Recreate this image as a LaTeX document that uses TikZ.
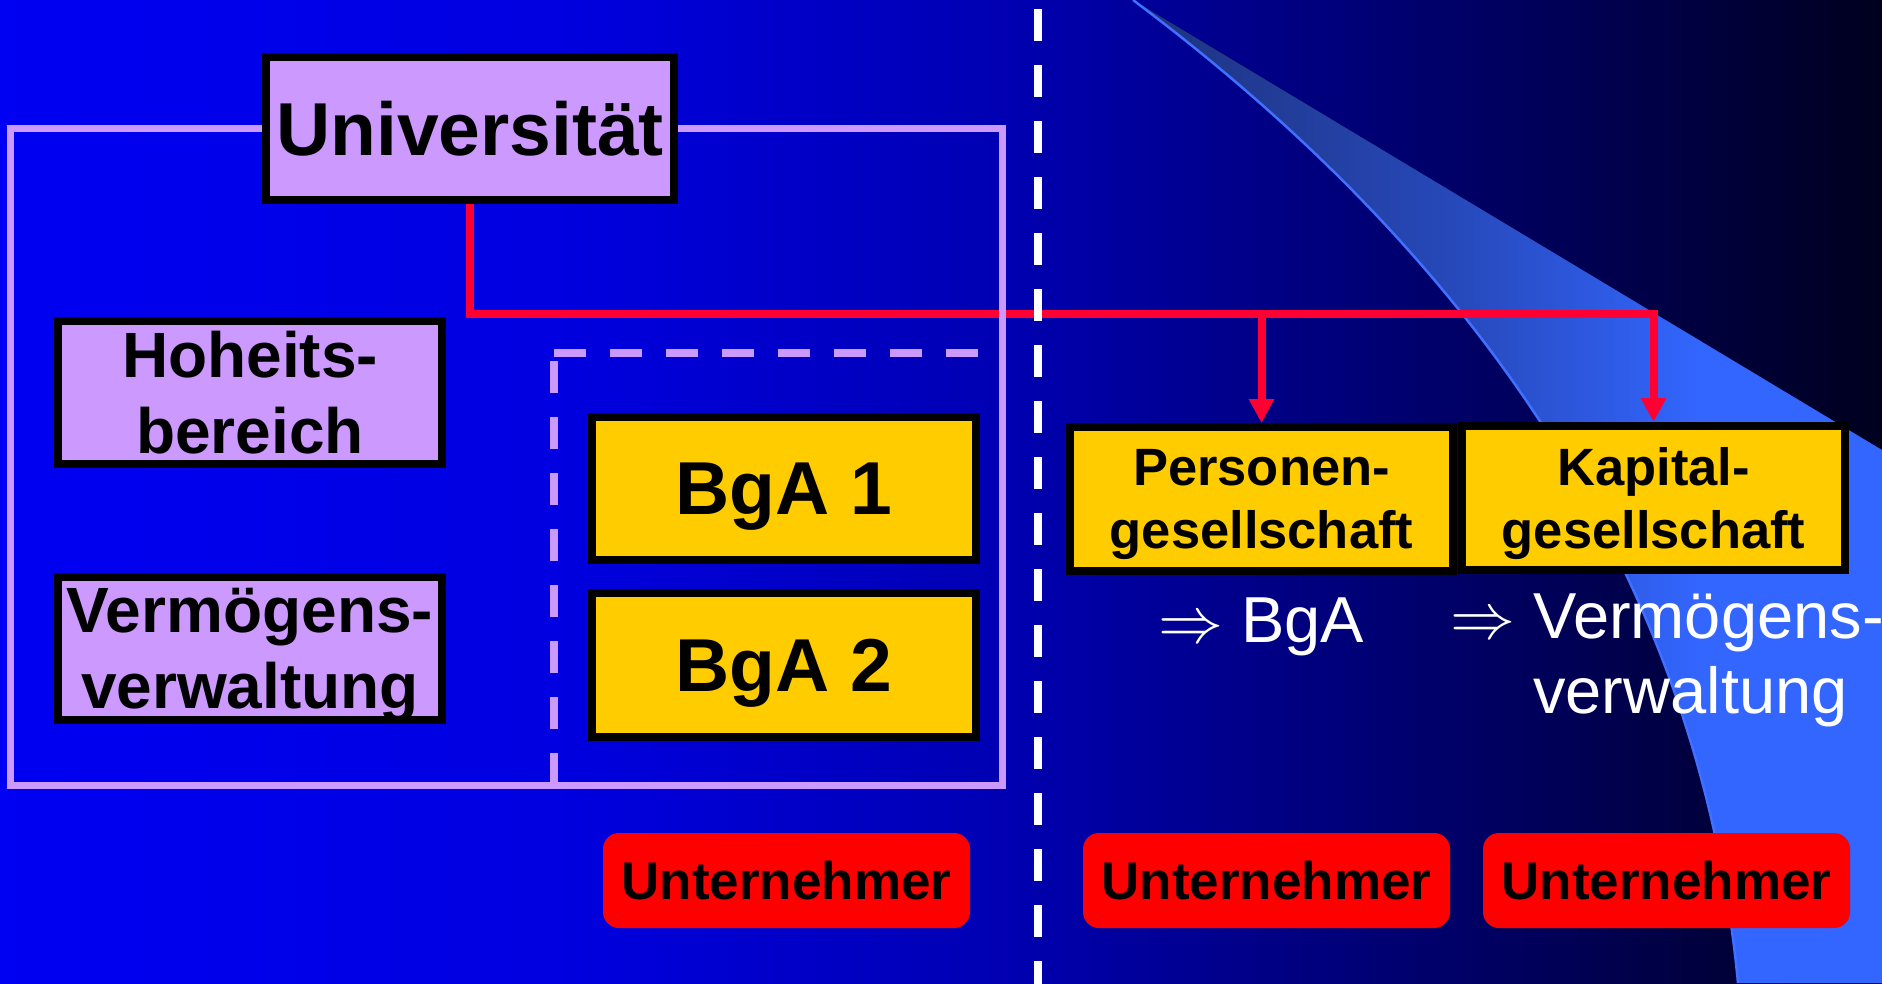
\documentclass[tikz,border=0pt]{standalone}
\usepackage{graphicx}
\usepackage{fontspec}
\setmainfont{Liberation Sans}
\usetikzlibrary{arrows.meta}

% palette
\definecolor{lilac}{HTML}{CC99FF}
\definecolor{gold}{HTML}{FFCC00}
\definecolor{tagred}{HTML}{FF0000}
\definecolor{linkred}{HTML}{FF0033}
\definecolor{swooshedge}{HTML}{4070FF}

% backdrop: bright blue on the left fading to near black on the right
\definecolor{bgA}{RGB}{0,0,242}
\definecolor{bgB}{RGB}{0,0,224}
\definecolor{bgC}{RGB}{0,0,178}
\definecolor{bgD}{RGB}{0,0,128}
\definecolor{bgE}{RGB}{0,0,80}
\definecolor{bgF}{RGB}{0,0,30}
\pgfdeclarehorizontalshading{backdropshade}{100bp}{%
  color(0bp)=(bgA); color(25bp)=(bgA); color(39.9bp)=(bgB); color(51.6bp)=(bgC);
  color(59.5bp)=(bgD); color(67.5bp)=(bgE); color(75bp)=(bgF); color(100bp)=(bgF)}

% light blue swoosh in the lower right corner
\definecolor{swA}{RGB}{30,50,125}
\definecolor{swB}{RGB}{38,72,185}
\definecolor{swC}{RGB}{51,102,255}
\pgfdeclarehorizontalshading{swooshshade}{100bp}{%
  color(0bp)=(swA); color(25bp)=(swA); color(46.2bp)=(swB); color(62.9bp)=(swC); color(100bp)=(swC)}

\pgfdeclarelayer{backdrop}
\pgfdeclarelayer{links}
\pgfdeclarelayer{frame}
\pgfsetlayers{backdrop,links,frame,main}

% implication arrow, built at 10pt and enlarged to the 65pt text size
\newcommand{\implarrow}{\scalebox{6.5}{\fontsize{10pt}{12pt}\selectfont$\Rightarrow$}}

\tikzset{
  framebox/.style={draw=black, line width=8pt, text=black, align=center, inner sep=0pt,
    minimum width=384pt, minimum height=143pt},
  lilacbox/.style={framebox, fill=lilac, font=\fontsize{64pt}{76pt}\selectfont\bfseries},
  goldbox/.style={framebox, fill=gold, font=\fontsize{75pt}{86pt}\selectfont\bfseries},
  formbox/.style={framebox, fill=gold, minimum width=383pt, minimum height=144pt,
    font=\fontsize{52.5pt}{62.5pt}\selectfont\bfseries},
  redtag/.style={fill=tagred, rounded corners=16pt, text=black, inner sep=0pt,
    minimum width=367pt, minimum height=95pt, font=\fontsize{53pt}{61pt}\selectfont\bfseries},
  whitetext/.style={text=white, inner sep=0pt, font=\fontsize{65pt}{75pt}\selectfont},
  linkline/.style={draw=linkred, line width=8pt, -{Triangle[width=24pt,length=24pt]}},
  dashline/.style={line width=8pt, dash pattern=on 32pt off 24pt}
}

\begin{document}
\begin{tikzpicture}[x=1pt, y=-1pt]
\useasboundingbox (0,0) rectangle (1882,983);

\begin{pgfonlayer}{backdrop}
  \fill[shading=backdropshade] (0,0) rectangle (1882,983);
  \fill[shading=swooshshade] (1133,0) -- (1882,450) -- (1882,983) -- (1738,983)
    .. controls (1700,583) and (1480,260) .. (1133,0) -- cycle;
  \draw[swooshedge, line width=2.5pt] (1133,0) .. controls (1480,260) and (1700,583) .. (1738,983);
\end{pgfonlayer}

% boxes
\node[lilacbox, minimum width=408pt, font=\fontsize{75pt}{86pt}\selectfont\bfseries] (univ) at (470,128.5) {Universität};
\node[lilacbox] (hoheit) at (250,392.5) {Hoheits-\\bereich};
\node[lilacbox, text depth=0pt] (verm) at (250,648.5) {Vermögens-\\verwaltung};
\node[goldbox, text depth=0pt] (bga1) at (784,488.5) {BgA 1};
\node[goldbox, text depth=0pt, minimum height=144pt] (bga2) at (784,665) {BgA 2};
\node[formbox, text depth=0pt] (pers) at (1261.5,499) {Personen-\\gesellschaft};
\node[formbox, text depth=0pt] (kap) at (1653.5,498) {Kapital-\\gesellschaft};

% consequences
\node[whitetext, anchor=base west] (bgatext) at (1158,642) {\implarrow{} BgA};
\node[whitetext, anchor=base west, align=left] (vwtext) at (1450,713)
  {\implarrow{} Vermögens-\\\hphantom{\implarrow{} }verwaltung};

% entrepreneur tags
\node[redtag] (tag1) at (786.5,880.5) {Unternehmer};
\node[redtag] (tag2) at (1266.5,880.5) {Unternehmer};
\node[redtag] (tag3) at (1666.5,880.5) {Unternehmer};

% connectors from the university to the companies
\begin{pgfonlayer}{links}
  \coordinate (bus) at (0,314);
  \draw[linkline] (univ.south) -- (univ.south |- bus) -| (kap.north);
  \draw[linkline] (pers.north |- bus) -- (pers.north);
\end{pgfonlayer}

% enclosing frames and separator
\begin{pgfonlayer}{frame}
  \draw[lilac, line width=7pt] (10,128) rectangle (1002,785);
  \draw[lilac, dashline] (554,353) -- (979,353);
  \draw[lilac, dashline] (554,361) -- (554,785);
  \draw[white, dashline] (1038,9) -- (1038,990);
\end{pgfonlayer}
\end{tikzpicture}
\end{document}
